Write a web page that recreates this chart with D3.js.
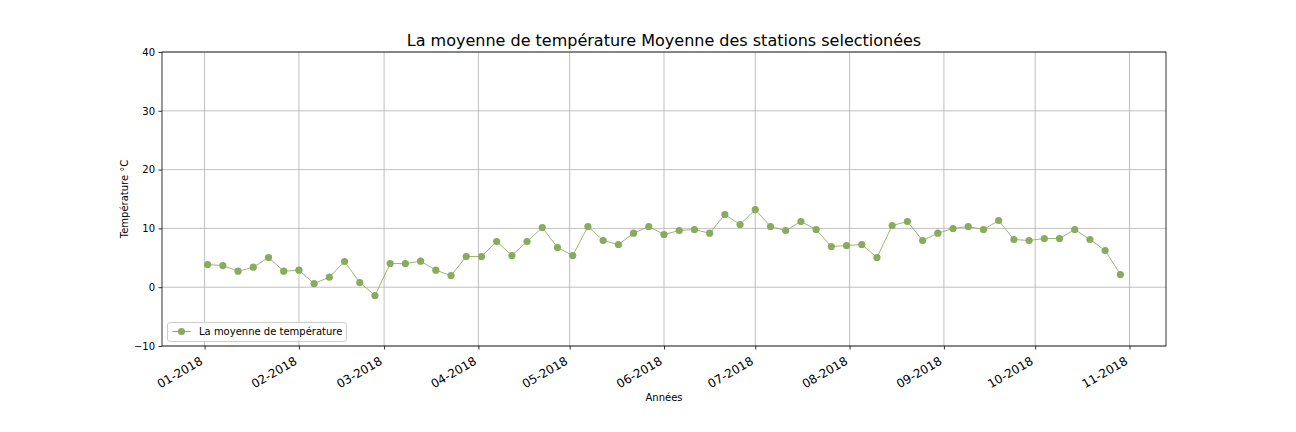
<!DOCTYPE html>
<html>
<head>
<meta charset="utf-8">
<script src="https://cdn.jsdelivr.net/npm/d3@7"></script>
<style>
  html, body { margin: 0; padding: 0; background: #fff; }
  svg { display: block; font-family: "DejaVu Sans", sans-serif; }
</style>
</head>
<body>
<svg id="chart" width="1296" height="432"></svg>
<script>
// ---- data ----
const dates = [
  "2018-01-02","2018-01-07","2018-01-12","2018-01-17","2018-01-22","2018-01-27",
  "2018-02-01","2018-02-06","2018-02-11","2018-02-16","2018-02-21","2018-02-26",
  "2018-03-03","2018-03-08","2018-03-13","2018-03-18","2018-03-23","2018-03-28",
  "2018-04-02","2018-04-07","2018-04-12","2018-04-17","2018-04-22","2018-04-27",
  "2018-05-02","2018-05-07","2018-05-12","2018-05-17","2018-05-22","2018-05-27",
  "2018-06-01","2018-06-06","2018-06-11","2018-06-16","2018-06-21","2018-06-26",
  "2018-07-01","2018-07-06","2018-07-11","2018-07-16","2018-07-21","2018-07-26","2018-07-31",
  "2018-08-05","2018-08-10","2018-08-15","2018-08-20","2018-08-25","2018-08-30",
  "2018-09-04","2018-09-09","2018-09-14","2018-09-19","2018-09-24","2018-09-29",
  "2018-10-04","2018-10-09","2018-10-14","2018-10-19","2018-10-24","2018-10-29"
];
const temperatures = [
  3.85, 3.68, 2.72, 3.40, 5.05, 2.72,
  2.89, 0.62, 1.70, 4.37, 0.79, -1.42,
  4.02, 4.02, 4.42, 2.89, 1.98, 5.22,
  5.22, 7.77, 5.39, 7.77, 10.15, 6.75,
  5.39, 10.32, 7.94, 7.26, 9.18, 10.32,
  8.96, 9.64, 9.81, 9.18, 12.36, 10.66,
  13.21, 10.32, 9.64, 11.17, 9.81, 6.92, 7.09,
  7.26, 5.05, 10.49, 11.17, 7.94, 9.18,
  9.98, 10.32, 9.81, 11.34, 8.11, 7.94,
  8.28, 8.28, 9.81, 8.11, 6.24, 2.15
];
const yTicks = [-10, 0, 10, 20, 30, 40];
const xTickDates = ["2018-01-01","2018-02-01","2018-03-01","2018-04-01","2018-05-01","2018-06-01",
                    "2018-07-01","2018-08-01","2018-09-01","2018-10-01","2018-11-01"];
const seriesName = "La moyenne de température";
const titleText = "La moyenne de température Moyenne des stations selectionées";
const xLabel = "Années";
const yLabel = "Température °C";

// ---- layout ----
const W = 1296, H = 432;
const M = { left: 162, right: 1166, top: 52, bottom: 346 };
const color = "#8aab5e";
const parse = d3.utcParse("%Y-%m-%d");
const data = dates.map((d, i) => ({ date: parse(d), value: temperatures[i] }));

const svg = d3.select("#chart");

const ext = d3.extent(data, d => d.date);
const span = ext[1] - ext[0];
const x = d3.scaleUtc()
  .domain([new Date(+ext[0] - span * 0.05), new Date(+ext[1] + span * 0.05)])
  .range([M.left, M.right]);
const y = d3.scaleLinear().domain([-10, 40]).range([M.bottom, M.top]);

// grid
const grid = svg.append("g");
grid.selectAll("line.gx").data(xTickDates.map(parse)).join("line")
  .attr("x1", d => x(d)).attr("x2", d => x(d))
  .attr("y1", M.top).attr("y2", M.bottom)
  .attr("stroke", "#b0b0b0").attr("stroke-width", 0.8);
grid.selectAll("line.gy").data(yTicks).join("line")
  .attr("x1", M.left).attr("x2", M.right)
  .attr("y1", d => y(d)).attr("y2", d => y(d))
  .attr("stroke", "#b0b0b0").attr("stroke-width", 0.8);

// line + markers
const line = d3.line().x(d => x(d.date)).y(d => y(d.value));
svg.append("path").datum(data)
  .attr("d", line)
  .attr("fill", "none")
  .attr("stroke", color)
  .attr("stroke-opacity", 0.85)
  .attr("stroke-width", 1);
svg.append("g").selectAll("circle").data(data).join("circle")
  .attr("cx", d => x(d.date)).attr("cy", d => y(d.value))
  .attr("r", 3.6).attr("fill", color);

// frame
svg.append("rect")
  .attr("x", M.left).attr("y", M.top)
  .attr("width", M.right - M.left).attr("height", M.bottom - M.top)
  .attr("fill", "none").attr("stroke", "#000").attr("stroke-width", 0.8);

// y axis
const yAxis = d3.axisLeft(y).tickValues(yTicks).tickSize(3.5).tickPadding(3.5)
  .tickFormat(d => String(d).replace("-", "\u2212"));
const gy = svg.append("g").attr("transform", `translate(${M.left},0)`).call(yAxis);
gy.select(".domain").remove();
gy.selectAll("line").attr("stroke", "#000").attr("stroke-width", 0.8);
gy.selectAll("text").attr("font-size", 10).attr("fill", "#000")
  .attr("font-family", "DejaVu Sans");

// x axis
const fmt = d3.utcFormat("%m-%Y");
const xAxis = d3.axisBottom(x).tickValues(xTickDates.map(parse)).tickSize(3.5).tickFormat(fmt);
const gx = svg.append("g").attr("transform", `translate(0,${M.bottom})`).call(xAxis);
gx.select(".domain").remove();
gx.selectAll("line").attr("stroke", "#000").attr("stroke-width", 0.8);
gx.selectAll("text")
  .attr("font-size", 12).attr("fill", "#000").attr("font-family", "DejaVu Sans")
  .attr("text-anchor", "end")
  .attr("dy", null)
  .attr("y", 0)
  .attr("transform", "translate(-1.5,17.5) rotate(-30)");

// axis labels
svg.append("text").attr("x", (M.left + M.right) / 2).attr("y", 401)
  .attr("text-anchor", "middle").attr("font-size", 10).text(xLabel);
svg.append("text")
  .attr("transform", `translate(127.5,${(M.top + M.bottom) / 2}) rotate(-90)`)
  .attr("text-anchor", "middle").attr("font-size", 10).text(yLabel);

// title
svg.append("text").attr("x", (M.left + M.right) / 2).attr("y", 46)
  .attr("text-anchor", "middle").attr("font-size", 16).text(titleText);

// legend
const lg = svg.append("g").attr("transform", "translate(167.5,322.5)");
const lt = lg.append("text").attr("x", 31.5).attr("y", 12.5)
  .attr("font-size", 10).text(seriesName);
const tw = lt.node().getComputedTextLength();
lg.insert("rect", "text").attr("width", 31.5 + tw + 4).attr("height", 19)
  .attr("rx", 2.5).attr("fill", "#fff").attr("fill-opacity", 0.8)
  .attr("stroke", "#cccccc").attr("stroke-width", 1);
lg.append("line").attr("x1", 5).attr("x2", 23).attr("y1", 9).attr("y2", 9)
  .attr("stroke", color).attr("stroke-width", 1);
lg.append("circle").attr("cx", 14).attr("cy", 9).attr("r", 3.6).attr("fill", color);
</script>
</body>
</html>
